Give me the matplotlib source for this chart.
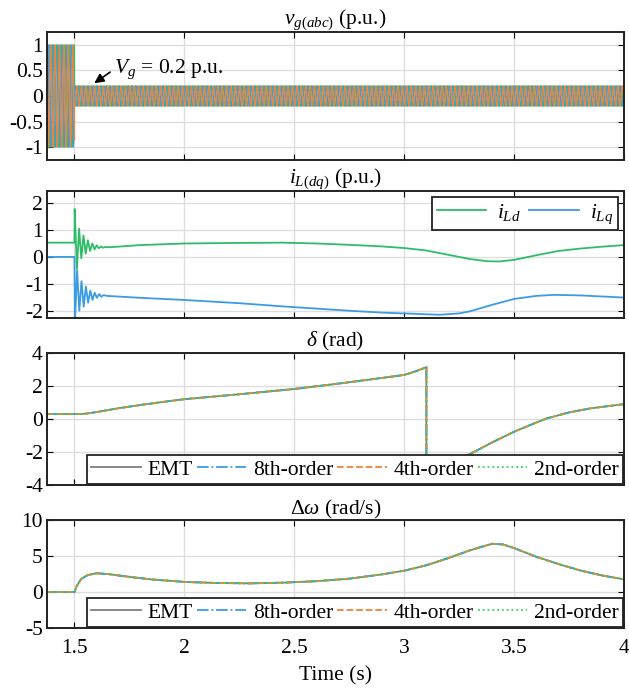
import numpy as np
import matplotlib
matplotlib.use("Agg")
import matplotlib.pyplot as plt

plt.rcParams['font.family'] = ['Liberation Serif', 'DejaVu Serif']
plt.rcParams['mathtext.fontset'] = 'custom'
plt.rcParams['mathtext.rm'] = 'Liberation Serif'
plt.rcParams['mathtext.it'] = 'Liberation Serif:italic'
plt.rcParams['mathtext.bf'] = 'Liberation Serif:bold'

# ---------------- data ----------------
t_start, t_end = 1.375, 4.0
t_fault = 1.5
grid_freq = 50.0            # Hz
v_amp_pre = 1.0             # p.u.
v_amp_post = 0.2            # p.u.
phase_shifts_deg = [120, 0, -120]

# i_Ld (green) read points
ild_t = [1.375, 1.5, 1.501, 1.511, 1.521, 1.531, 1.541, 1.551, 1.561, 1.571, 1.581,
         1.591, 1.601, 1.611, 1.621, 1.631, 1.641, 1.66, 1.8, 2.0, 2.25, 2.45, 2.6,
         2.75, 2.9, 3.0, 3.1, 3.2, 3.3, 3.38, 3.43, 3.5, 3.6, 3.7, 3.8, 3.9, 4.0]
ild_v = [0.53, 0.53, 1.78, -0.45, 1.05, -0.05, 0.8, 0.12, 0.62, 0.22, 0.5,
         0.28, 0.43, 0.32, 0.39, 0.34, 0.37, 0.36, 0.44, 0.5, 0.52, 0.53, 0.5,
         0.45, 0.39, 0.33, 0.24, 0.08, -0.08, -0.16, -0.17, -0.11, 0.06, 0.22, 0.31, 0.38, 0.44]
# i_Lq (blue) read points
ilq_t = [1.375, 1.5, 1.502, 1.512, 1.522, 1.532, 1.542, 1.552, 1.562, 1.572, 1.582,
         1.592, 1.602, 1.612, 1.622, 1.632, 1.65, 1.8, 2.0, 2.25, 2.45, 2.6, 2.75,
         2.9, 3.0, 3.16, 3.25, 3.3, 3.4, 3.5, 3.6, 3.68, 3.8, 3.9, 4.0]
ilq_v = [0.0, 0.0, -2.45, -0.5, -2.0, -0.9, -1.85, -1.1, -1.7, -1.25, -1.6,
         -1.33, -1.52, -1.38, -1.48, -1.42, -1.45, -1.52, -1.6, -1.72, -1.84, -1.92, -2.0,
         -2.07, -2.1, -2.15, -2.1, -2.02, -1.78, -1.56, -1.45, -1.41, -1.43, -1.47, -1.51]

# delta (rad)
delta_t = [1.375, 1.52, 1.55, 1.6, 1.7, 1.8, 1.9, 2.0, 2.25, 2.5, 2.71, 2.86, 3.0, 3.05,
           3.101, 3.101, 3.2, 3.3, 3.4, 3.5, 3.6, 3.65, 3.75, 3.85, 4.0]
delta_v = [0.3, 0.3, 0.32, 0.42, 0.65, 0.85, 1.03, 1.2, 1.5, 1.82, 2.16, 2.42, 2.67, 2.88,
           3.14, -3.14, -2.7, -2.12, -1.42, -0.77, -0.22, 0.04, 0.4, 0.65, 0.9]

# delta omega (rad/s)
dw_t = [1.375, 1.5, 1.51, 1.53, 1.56, 1.6, 1.65, 1.75, 1.85, 2.0, 2.15, 2.3, 2.45, 2.6,
        2.75, 2.9, 3.0, 3.1, 3.2, 3.3, 3.4, 3.45, 3.5, 3.6, 3.7, 3.8, 3.9, 4.0]
dw_v = [0.0, 0.0, 0.8, 1.8, 2.35, 2.6, 2.5, 2.1, 1.75, 1.4, 1.25, 1.2, 1.3, 1.5,
        1.85, 2.45, 2.96, 3.7, 4.7, 5.8, 6.7, 6.6, 6.1, 4.9, 3.9, 3.0, 2.3, 1.76]

model_labels = ['EMT', '8th-order', '4th-order', '2nd-order']
model_colors = ['#7f7f7f', '#3b9be3', '#f2813a', '#33d94a']
model_styles = ['-', '-.', '--', ':']

x_ticks = [1.5, 2, 2.5, 3, 3.5, 4]
x_ticklabels = ['1.5', '2', '2.5', '3', '3.5', '4']

# ---------------- figure ----------------
fig = plt.figure(figsize=(6.29, 6.92), dpi=100)
W, H = 629, 692
left, right = 47, 624
panels_px = [(32, 160), (191, 318), (353, 485), (520, 628)]
axes = []
for top, bot in panels_px:
    ax = fig.add_axes([left / W, 1 - bot / H, (right - left) / W, (bot - top) / H])
    axes.append(ax)

FS = 15.5
for ax in axes:
    ax.set_xlim(t_start, t_end)
    ax.set_xticks(x_ticks)
    ax.grid(True, color='#dedede', lw=1.0)
    ax.set_axisbelow(True)
    ax.tick_params(direction='in', top=True, right=True, length=4, width=0.8,
                   labelsize=FS, pad=3)
    for s in ax.spines.values():
        s.set_linewidth(1.4)
        s.set_color('#222222')
    ax.set_xticklabels([])

# Panel 1: grid voltages
t = np.linspace(t_start, t_end, 30000)
amp = np.where(t < t_fault, v_amp_pre, v_amp_post)
vcols = ['#33c060', '#3b9be3', '#f2813a']
ax = axes[0]
for ph, c in zip(phase_shifts_deg, vcols):
    ax.plot(t, amp * np.sin(2 * np.pi * grid_freq * t + np.deg2rad(ph)), color=c, lw=0.9)
ax.set_ylim(-1.25, 1.25)
ax.set_yticks([-1, -0.5, 0, 0.5, 1])
ax.set_yticklabels(['-1', '-0.5', '0', '0.5', '1'])
ax.set_title(r'$v_{g(abc)}$ (p.u.)', fontsize=FS, pad=4)
ax.annotate(r'$V_g$ = 0.2 p.u.', xy=(1.59, 0.25), xytext=(1.68, 0.52),
            fontsize=FS, ha='left', va='center',
            arrowprops=dict(arrowstyle='-|>', color='black', lw=1.2,
                            mutation_scale=14, relpos=(0, 0.5), shrinkA=1, shrinkB=0))

# Panel 2: currents
ax = axes[1]
ax.plot(ild_t, ild_v, color='#2dbd68', lw=1.3, label=r'$i_{Ld}$')
ax.plot(ilq_t, ilq_v, color='#3b9be3', lw=1.3, label=r'$i_{Lq}$')
ax.set_ylim(-2.27, 2.45)
ax.set_yticks([-2, -1, 0, 1, 2])
ax.set_yticklabels(['-2', '-1', '0', '1', '2'])
ax.set_title(r'$i_{L(dq)}$ (p.u.)', fontsize=FS, pad=4)
leg = ax.legend(loc='upper right', ncol=2, fontsize=FS, frameon=True, fancybox=False,
                edgecolor='#222222', framealpha=1, handlelength=2.3, handletextpad=0.5,
                columnspacing=0.4, borderaxespad=0.3, borderpad=0.2)
leg.get_frame().set_linewidth(1.3)


def model_lines(ax, xs, ys):
    for lab, c, ls in zip(model_labels, model_colors, model_styles):
        ax.plot(xs, ys, color=c, ls=ls, lw=1.3, label=lab)
    lg = ax.legend(loc='lower right', ncol=4, fontsize=FS, frameon=True, fancybox=False,
                   edgecolor='#222222', framealpha=1, handlelength=2.3, handletextpad=0.3,
                   columnspacing=0.2, borderaxespad=0.05, borderpad=0.2)
    lg.get_frame().set_linewidth(1.3)


# Panel 3: delta
ax = axes[2]
model_lines(ax, delta_t, delta_v)
ax.set_ylim(-4, 4)
ax.set_yticks([-4, -2, 0, 2, 4])
ax.set_yticklabels(['-4', '-2', '0', '2', '4'])
ax.set_title(r'$\delta$ (rad)', fontsize=FS, pad=4)

# Panel 4: delta omega
ax = axes[3]
model_lines(ax, dw_t, dw_v)
ax.set_ylim(-5, 10)
ax.set_yticks([-5, 0, 5, 10])
ax.set_yticklabels(['-5', '0', '5', '10'])
ax.set_title(r'$\Delta\omega$ (rad/s)', fontsize=FS, pad=4)
ax.set_xticklabels(x_ticklabels)
ax.tick_params(axis='x', pad=8)
ax.set_xlabel('Time (s)', fontsize=FS, labelpad=6)

fig.savefig('out.png', dpi=100)
